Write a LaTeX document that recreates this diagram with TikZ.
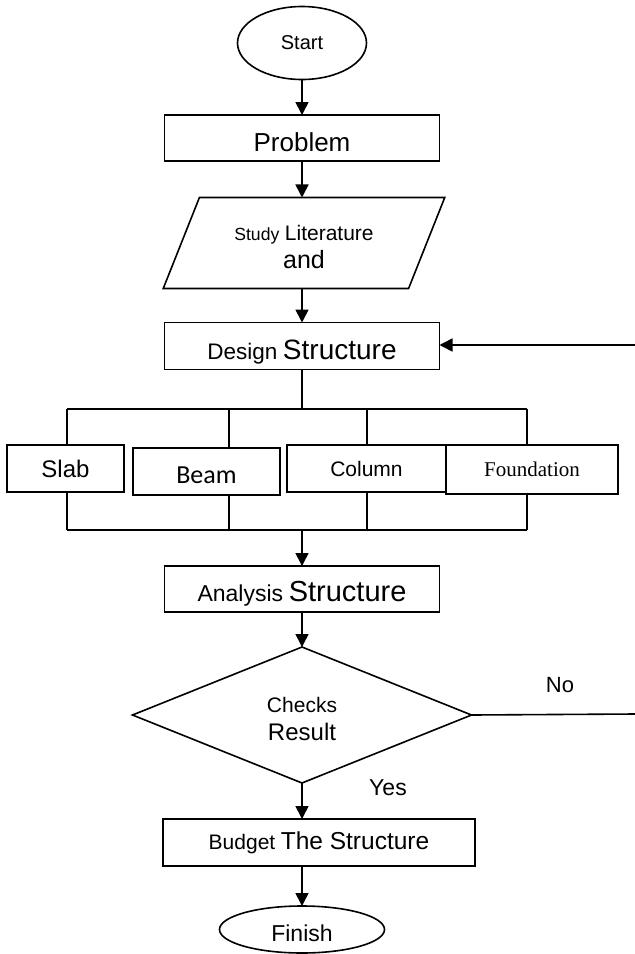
\documentclass[tikz,border=0pt]{standalone}
\usepackage{fontspec}
\setmainfont{Liberation Sans}
\newfontfamily\serifface{Liberation Serif}
\newfontfamily\calface{Carlito}
\usetikzlibrary{shapes.geometric,arrows.meta}
\newcommand{\fsz}[1]{\fontsize{#1}{28}\selectfont}
\newcommand{\dropby}[2]{\raisebox{-#1pt}[\height][\depth]{#2}}

\begin{document}
\begin{tikzpicture}[x=1pt,y=-1pt,line width=1.6pt,
  every node/.style={inner sep=0pt, outer sep=0pt, font=\fsz{20}},
  box/.style={draw, fill=white, rectangle, minimum height=47pt},
  oval/.style={draw, fill=white, ellipse},
  flow/.style={-{Triangle[width=13pt,length=13pt]}}]
\useasboundingbox (0,0) rectangle (635,954);

\node[oval, minimum width=129pt, minimum height=73pt] (start) at (302,43) {Start};
\node[box, minimum width=275pt, minimum height=46pt] (problem) at (302,138) {\dropby{4}{\fsz{26}Problem}};
\node[draw, trapezium, trapezium left angle=61, trapezium right angle=119,
  trapezium stretches=true, minimum width=282pt, minimum height=91pt, align=center]
  (study) at (304,243) {\dropby{4}{{\fsz{17.6}Study} {\fsz{21}Literature}}\\\dropby{4}{\fsz{25}and}};
\node[box, minimum width=275pt] (design) at (302,346) {\dropby{6}{{\fsz{22.5}Design} {\fsz{28}Structure}}};

\node[box, minimum width=117pt] (slab) at (65.5,468.5) {\fsz{24}Slab};
\node[box, minimum width=147pt] (beam) at (206.5,471.5) {\dropby{4}{\calface\fsz{26}Beam}};
\node[box, minimum width=159pt] (column) at (366.5,468.5) {\fsz{21}Column};
\node[box, minimum width=172pt, minimum height=49pt] (found) at (532,469.5) {\serifface\fsz{21}Foundation};

\node[box, minimum width=275pt, minimum height=46pt] (analysis) at (302,589) {\dropby{5}{{\fsz{23}Analysis} {\fsz{29}Structure}}};
\node[draw, diamond, minimum width=339pt, minimum height=136pt, align=center] (checks) at (302,715)
  {\dropby{4}{\fsz{21}Checks}\\\dropby{4}{\fsz{24}Result}};
\node[box, minimum width=312pt] (budget) at (319,842.5) {{\fsz{21}Budget} {\fsz{24.5}The Structure}};
\node[oval, minimum width=165pt, minimum height=47pt] (finish) at (302,929.5) {\dropby{4}{\fsz{23}Finish}};

\node (no) at (560,685) {\fsz{22}No};
\node (yes) at (388,788) {\fsz{23}Yes};

% bus lines round the members
\coordinate (t1) at (67,409);
\coordinate (t2) at (229,409);
\coordinate (t3) at (367,409);
\coordinate (t4) at (527,409);
\coordinate (b1) at (67,530);
\coordinate (b2) at (229,530);
\coordinate (b3) at (367,530);
\coordinate (b4) at (527,530);
\coordinate (back) at (635,345);
\coordinate (noend) at (635,714);

\draw[flow] (start) -- (problem);
\draw[flow] (problem) -- (problem |- study.north);
\draw[flow] (problem |- study.south) -- (design);
\draw (design.south) -- (design.south |- t1);
\draw (t1) -- (t4);
\draw (t1) -- (t1 |- slab.north);
\draw (t2) -- (t2 |- beam.north);
\draw (t3) -- (t3 |- column.north);
\draw (t4) -- (t4 |- found.north);
\draw (b1) -- (b1 |- slab.south);
\draw (b2) -- (b2 |- beam.south);
\draw (b3) -- (b3 |- column.south);
\draw (b4) -- (b4 |- found.south);
\draw (b1) -- (b4);
\draw[flow] (design.south |- b1) -- (analysis);
\draw[flow] (analysis) -- (checks);
\draw[flow] (checks.south) -- (checks.south |- budget.north);
\draw[flow] (checks.south |- budget.south) -- (finish);
\draw (checks.east) -- (noend);
\draw[flow] (back) -- (design.east |- back);
\end{tikzpicture}
\end{document}
